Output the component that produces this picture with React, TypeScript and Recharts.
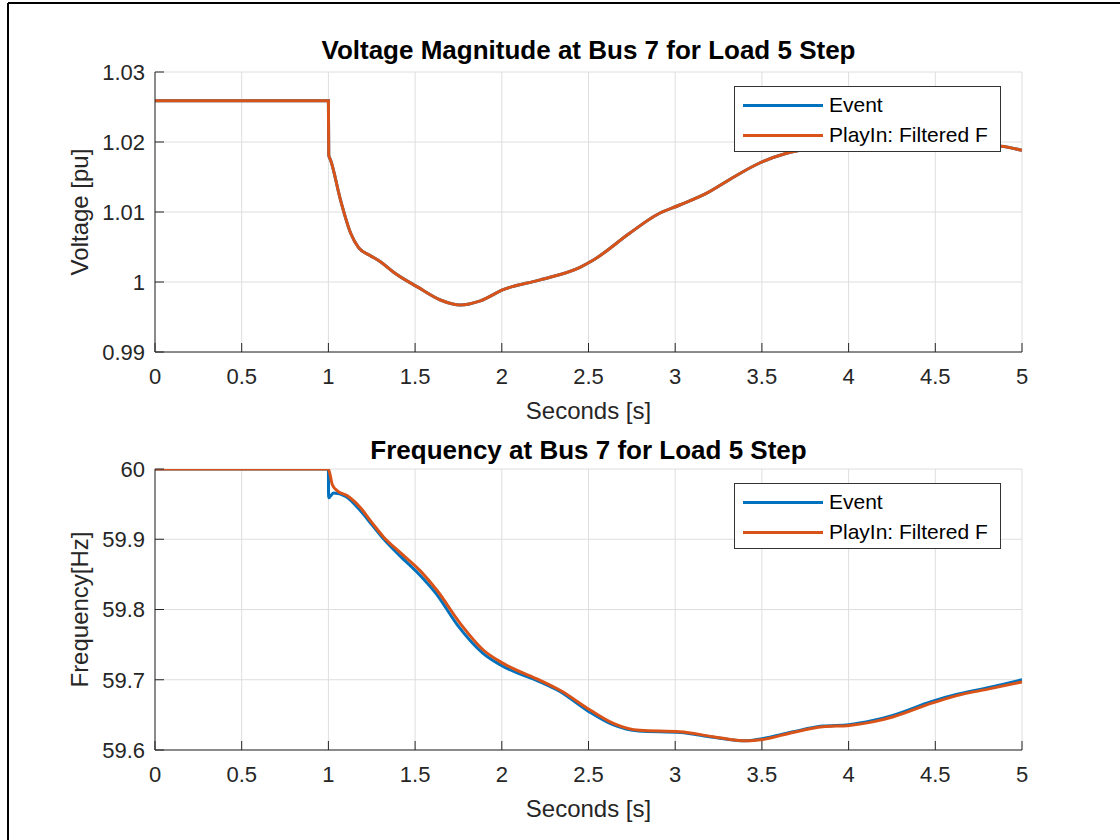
import { LineChart, Line, XAxis, YAxis, CartesianGrid } from 'recharts'

const FONT = '"Liberation Sans", Arial, Helvetica, sans-serif'
const AXIS = '#262626'
const GRID = '#dedede'
const BLUE = '#0072BD'
const ORANGE = '#D95319'

// tick positions
const timeTicks = [0, 0.5, 1, 1.5, 2, 2.5, 3, 3.5, 4, 4.5, 5]
const voltTicks = [0.99, 1, 1.01, 1.02, 1.03]
const freqTicks = [59.6, 59.7, 59.8, 59.9, 60]

// voltage at bus 7 (pu)
const voltTime = [
  0, 1, 1.002, 1.013, 1.07, 1.128, 1.174, 1.24, 1.3, 1.376, 1.513, 1.646, 1.761, 1.876, 2.008,
  2.221, 2.451, 2.526, 2.739, 2.894, 3.026, 3.182, 3.331, 3.487, 3.642, 3.792, 4.0, 4.25, 4.5,
  4.75, 4.877, 5,
]
const voltEvent = [
  1.0259, 1.0259, 1.0181, 1.0174, 1.0117, 1.007, 1.0049, 1.0038, 1.0029, 1.0014, 0.9993, 0.99743,
  0.99671, 0.9973, 0.9989, 1.0003, 1.0021, 1.0031, 1.007, 1.0096, 1.011, 1.0127, 1.0149, 1.017,
  1.0184, 1.0191, 1.0195, 1.0197, 1.0197, 1.0195, 1.0194, 1.0188,
]
const voltPlayIn = [
  1.0259, 1.0259, 1.0181, 1.0174, 1.0117, 1.007, 1.0049, 1.0038, 1.0029, 1.0014, 0.9993, 0.99743,
  0.99671, 0.9973, 0.9989, 1.0003, 1.0021, 1.0031, 1.007, 1.0096, 1.011, 1.0127, 1.0149, 1.017,
  1.0184, 1.0191, 1.0195, 1.0197, 1.0197, 1.0195, 1.0194, 1.0188,
]

// frequency at bus 7 (Hz)
const freqEventTime = [
  0, 1, 1.001, 1.03, 1.1, 1.18, 1.25, 1.32, 1.41, 1.52, 1.62, 1.75, 1.89, 2.0, 2.22, 2.33, 2.5,
  2.64, 2.79, 3.03, 3.22, 3.4, 3.5, 3.68, 3.85, 4.0, 4.14, 4.25, 4.48, 4.62, 4.81, 5,
]
const freqEvent = [
  60, 60, 59.959, 59.966, 59.961, 59.942, 59.921, 59.9, 59.877, 59.851, 59.823, 59.776, 59.738,
  59.72, 59.697, 59.684, 59.655, 59.636, 59.627, 59.625, 59.618, 59.613, 59.616, 59.626, 59.634,
  59.636, 59.642, 59.649, 59.669, 59.679, 59.689, 59.7,
]
const freqPlayInTime = [
  0, 1, 1.022, 1.051, 1.109, 1.185, 1.25, 1.319, 1.415, 1.53, 1.627, 1.761, 1.895, 2.01, 2.221,
  2.336, 2.509, 2.643, 2.796, 3.026, 3.218, 3.41, 3.506, 3.678, 3.851, 4.005, 4.139, 4.254, 4.484,
  4.618, 4.81, 5,
]
const freqPlayIn = [
  60, 60, 59.978, 59.969, 59.962, 59.945, 59.924, 59.903, 59.881, 59.855, 59.827, 59.78, 59.742,
  59.723, 59.699, 59.685, 59.657, 59.638, 59.628, 59.626, 59.619, 59.613, 59.615, 59.625, 59.633,
  59.635, 59.64, 59.647, 59.667, 59.677, 59.687, 59.697,
]

const seriesNames = ['Event', 'PlayIn: Filtered F']

const toPoints = (xs: number[], ys: number[]) => xs.map((t, i) => ({ t, v: ys[i] }))

function LegendBox({ top }: { top: number }) {
  const colors = [BLUE, ORANGE]
  return (
    <div
      style={{
        position: 'absolute',
        left: 734,
        top,
        width: 267,
        height: 66,
        boxSizing: 'border-box',
        border: '1px solid #333',
        background: '#fff',
        padding: '3px 0 0 8px',
        fontFamily: FONT,
      }}
    >
      {seriesNames.map((name, i) => (
        <div key={name} style={{ display: 'flex', alignItems: 'center', height: 30 }}>
          <span style={{ width: 80, height: 3, background: colors[i], marginRight: 6 }} />
          <span style={{ fontSize: 21, color: '#000', whiteSpace: 'nowrap' }}>{name}</span>
        </div>
      ))}
    </div>
  )
}

function XLabel(props: any) {
  const vb = props.viewBox || {}
  return (
    <text
      x={vb.x + vb.width / 2}
      y={vb.y + 67}
      textAnchor="middle"
      fontSize={24}
      fontFamily={FONT}
      fill={AXIS}
    >
      Seconds [s]
    </text>
  )
}

function makeYLabel(text: string) {
  return function YLabel(props: any) {
    const vb = props.viewBox || {}
    const cx = 79
    const cy = vb.y + vb.height / 2
    return (
      <text
        x={cx}
        y={cy}
        transform={`rotate(-90, ${cx}, ${cy})`}
        textAnchor="middle"
        dominantBaseline="central"
        fontSize={24}
        fontFamily={FONT}
        fill={AXIS}
      >
        {text}
      </text>
    )
  }
}

interface PanelProps {
  top: number
  marginTop: number
  plotHeight: number
  legendTop: number
  yLabel: string
  yTicks: number[]
  event: { t: number; v: number }[]
  playIn: { t: number; v: number }[]
}

function Panel({ top, marginTop, plotHeight, legendTop, yLabel, yTicks, event, playIn }: PanelProps) {
  const tickStyle = { fontSize: 22, fill: AXIS, fontFamily: FONT }
  const height = 440
  return (
    <div style={{ position: 'absolute', left: 0, top, width: 1120, height }}>
      <LineChart width={1120} height={height} margin={{ top: marginTop, right: 98, left: 0, bottom: 0 }}>
        <CartesianGrid stroke={GRID} strokeWidth={1} />
        <XAxis
          dataKey="t"
          type="number"
          domain={[0, 5]}
          ticks={timeTicks}
          interval={0}
          allowDataOverflow
          height={height - marginTop - plotHeight}
          tickSize={-9}
          tickMargin={25}
          tick={tickStyle}
          tickFormatter={(v) => String(v)}
          axisLine={{ stroke: AXIS, strokeWidth: 1 }}
          tickLine={{ stroke: AXIS, strokeWidth: 1 }}
          label={<XLabel />}
        />
        <YAxis
          type="number"
          domain={[yTicks[0], yTicks[yTicks.length - 1]]}
          ticks={yTicks}
          interval={0}
          allowDataOverflow
          width={155}
          tickSize={-9}
          tickMargin={19}
          tick={tickStyle}
          tickFormatter={(v) => String(v)}
          axisLine={{ stroke: AXIS, strokeWidth: 1 }}
          tickLine={{ stroke: AXIS, strokeWidth: 1 }}
          label={{ content: makeYLabel(yLabel) } as any}
        />
        <Line
          data={event}
          dataKey="v"
          name={seriesNames[0]}
          type="monotone"
          stroke={BLUE}
          strokeWidth={3}
          dot={false}
          activeDot={false}
          isAnimationActive={false}
        />
        <Line
          data={playIn}
          dataKey="v"
          name={seriesNames[1]}
          type="monotone"
          stroke={ORANGE}
          strokeWidth={3}
          dot={false}
          activeDot={false}
          isAnimationActive={false}
        />
      </LineChart>
      <LegendBox top={legendTop} />
    </div>
  )
}

export default function App() {
  return (
    <div
      style={{
        position: 'fixed',
        left: 0,
        top: 0,
        width: 1120,
        height: 840,
        background: '#fff',
        overflow: 'hidden',
      }}
    >
      <Panel
        top={0}
        marginTop={72}
        plotHeight={280}
        legendTop={86}
        yLabel="Voltage [pu]"
        yTicks={voltTicks}
        event={toPoints(voltTime, voltEvent)}
        playIn={toPoints(voltTime, voltPlayIn)}
      />
      <Panel
        top={400}
        marginTop={69}
        plotHeight={281}
        legendTop={83}
        yLabel="Frequency[Hz]"
        yTicks={freqTicks}
        event={toPoints(freqEventTime, freqEvent)}
        playIn={toPoints(freqPlayInTime, freqPlayIn)}
      />
      <svg
        width={1120}
        height={840}
        style={{ position: 'absolute', left: 0, top: 0, pointerEvents: 'none' }}
      >
        <line x1={8} y1={3} x2={1120} y2={3} stroke="#000" strokeWidth={2} />
        <line x1={8} y1={3} x2={8} y2={840} stroke="#000" strokeWidth={2} />
        <text x={588.5} y={59} textAnchor="middle" fontSize={26} fontWeight="bold" fontFamily={FONT} fill="#000">
          Voltage Magnitude at Bus 7 for Load 5 Step
        </text>
        <text x={588.5} y={459} textAnchor="middle" fontSize={26} fontWeight="bold" fontFamily={FONT} fill="#000">
          Frequency at Bus 7 for Load 5 Step
        </text>
      </svg>
    </div>
  )
}
